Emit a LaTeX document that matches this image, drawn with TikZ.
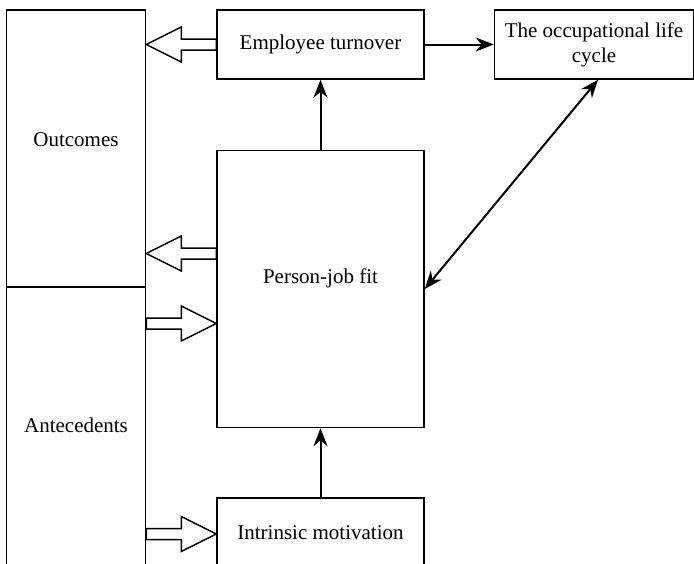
\documentclass[tikz,border=0pt]{standalone}
\usepackage{fontspec}
\setmainfont{Liberation Serif}
\usepackage{tikz}
\usetikzlibrary{arrows.meta,positioning,calc}

\begin{document}
\begin{tikzpicture}[
    x=1pt, y=-1pt,
    >={Stealth[length=18pt,width=14pt]},
    box/.style={rectangle, draw=black, fill=white, text=black, inner sep=0pt,
                font=\fontsize{21}{25}\selectfont, line width=1.5pt},
    link/.style={line width=2pt, ->},
    hollow/.style={line width=1.5pt, fill=white,
        to path={let \p1=(\tikztostart), \p2=(\tikztotarget), \n1={sign(\x2-\x1)} in
            (\x1,\y1+5.5pt) -- (\x2-35pt*\n1,\y1+5.5pt) -- (\x2-35pt*\n1,\y1+17.5pt) -- (\x2,\y1)
            -- (\x2-35pt*\n1,\y1-17.5pt) -- (\x2-35pt*\n1,\y1-5.5pt) -- (\x1,\y1-5.5pt) -- cycle}},
]
\useasboundingbox (0,0) rectangle (694,563);
\clip (0,0) rectangle (694,563);

\node[box,minimum width=207pt,minimum height=69pt] (turnover) at (320.5,44.5) {Employee turnover};
\node[box,minimum width=199pt,minimum height=69pt,align=center,right=69pt of turnover] (lifecycle) {The occupational life\\cycle};
\node[box,minimum width=207pt,minimum height=277pt,text height=14pt,text depth=26pt,below=70pt of turnover] (pjfit) {Person-job fit};
\node[box,minimum width=207pt,minimum height=75pt,text height=14pt,text depth=6pt,below=69pt of pjfit] (intrinsic) {Intrinsic motivation};
\node[box,minimum width=139pt,minimum height=277pt,text height=14pt,text depth=19pt,below left=0pt and 70pt of turnover.north west] (outcomes) {Outcomes};
\node[box,minimum width=139pt,minimum height=290pt,text height=14pt,text depth=14pt,below=-1.5pt of outcomes] (antecedents) {Antecedents};

\coordinate (pjup) at ([yshift=35.5pt]pjfit.west);
\coordinate (pjdown) at ([yshift=-34.5pt]pjfit.west);
\coordinate (imleft) at ([yshift=1.5pt]intrinsic.west);

\draw[link] (pjfit) -- (turnover);
\draw[link] (intrinsic) -- (pjfit);
\draw[link] (turnover) -- (lifecycle);
\draw[link,<->] (pjfit.east) -- ([xshift=4pt]lifecycle.south);

\draw[hollow] (turnover.west) to (outcomes.east |- turnover.west);
\draw[hollow] (pjup) to (outcomes.east |- pjup);
\draw[hollow] (antecedents.east |- pjdown) to (pjdown);
\draw[hollow] (antecedents.east |- imleft) to (imleft);

\end{tikzpicture}
\end{document}
